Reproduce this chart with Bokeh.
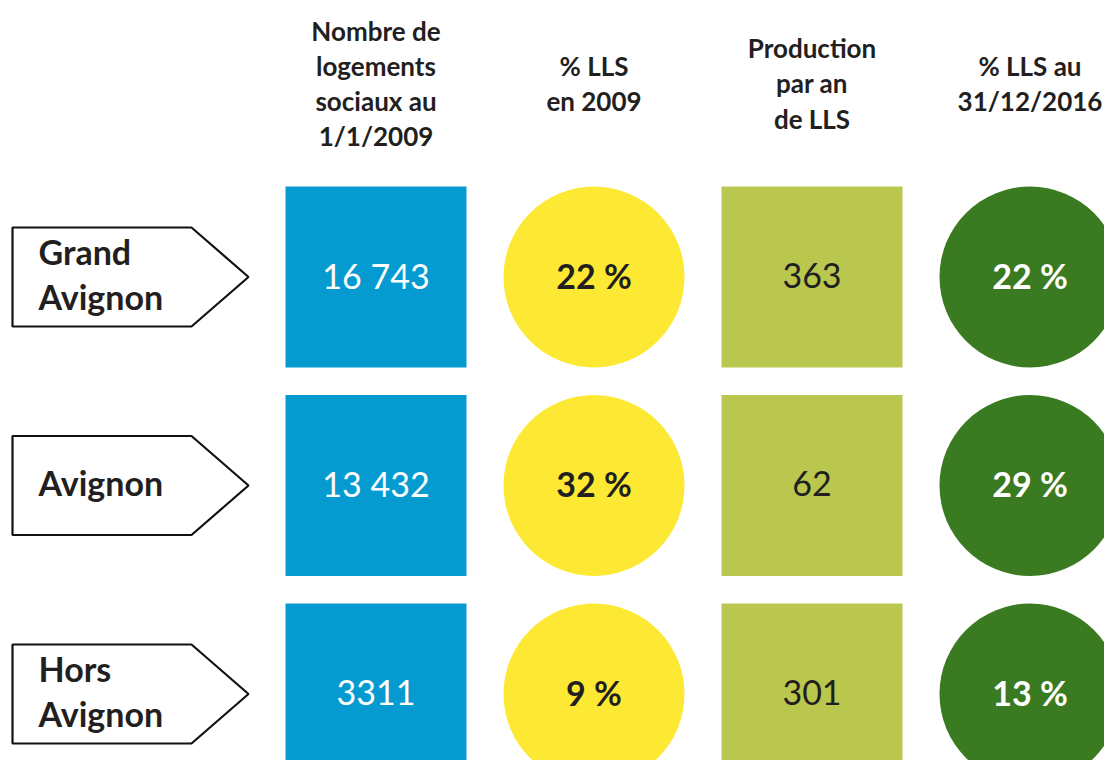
from bokeh.plotting import figure
from bokeh.models import Range1d
from bokeh.core.properties import value
from bokeh.embed import file_html
from bokeh.resources import INLINE

# ---- data ----
regions = ["Grand\nAvignon", "Avignon", "Hors\nAvignon"]
headers = ["Nombre de\nlogements\nsociaux au\n1/1/2009", "% LLS\nen 2009",
           "Production\npar an\nde LLS", "% LLS au\n31/12/2016"]
logements_2009 = [16743, 13432, 3311]
pct_lls_2009 = [22, 32, 9]
production_an = [363, 62, 301]
pct_lls_2016 = [22, 29, 13]

def fmt_num(v):
    return f"{v:,}".replace(",", " ") if v >= 10000 else str(v)

columns = [
    dict(labels=[fmt_num(v) for v in logements_2009], shape="square", fill="#069bd0", tc="#ffffff", style="normal"),
    dict(labels=[f"{v} %" for v in pct_lls_2009], shape="circle", fill="#fde933", tc="#231f20", style="bold"),
    dict(labels=[str(v) for v in production_an], shape="square", fill="#b9c74f", tc="#231f20", style="normal"),
    dict(labels=[f"{v} %" for v in pct_lls_2016], shape="circle", fill="#3a7a21", tc="#ffffff", style="bold"),
]

# ---- layout ----
FONT = value("Lato")
col_x0, col_dx = 375.5, 218.0
row_y0, row_dy = 276.5, 208.5
size = 181.0
arrow_left, arrow_body, arrow_tip, arrow_half = 12.0, 191.0, 248.0, 49.5
header_y = 83.0
value_dy, label_dy = -2.0, -3.0

p = figure(width=1104, height=760, x_range=Range1d(0, 1104), y_range=Range1d(760, 0),
           output_backend="svg", toolbar_location=None, min_border=0,
           x_axis_location=None, y_axis_location=None, outline_line_color=None,
           background_fill_color="white", border_fill_color="white")
p.grid.visible = False

row_ys = [row_y0 + i * row_dy for i in range(len(regions))]

# arrows with region labels
xs, ys = [], []
for y in row_ys:
    xs.append([arrow_left, arrow_body, arrow_tip, arrow_body, arrow_left])
    ys.append([y - arrow_half, y - arrow_half, y, y + arrow_half, y + arrow_half])
p.patches(xs, ys, fill_color="white", line_color="#111111", line_width=2.2)
p.text(x=[38] * len(regions), y=[y + label_dy for y in row_ys], text=regions, text_font=FONT,
       text_font_style="bold", text_font_size="34px", text_color="#231f20", text_align="left",
       text_baseline="middle", text_line_height=1.08)

# headers
col_xs = [col_x0 + j * col_dx for j in range(len(columns))]
p.text(x=col_xs, y=[header_y] * len(headers), text=headers, text_font=FONT, text_font_style="bold",
       text_font_size="26px", text_color="#231f20", text_align="center", text_baseline="middle",
       text_line_height=1.1)

# cells
for j, col in enumerate(columns):
    cx = [col_xs[j]] * len(row_ys)
    if col["shape"] == "square":
        p.rect(x=cx, y=row_ys, width=size, height=size, fill_color=col["fill"], line_color=None)
    else:
        p.circle(x=cx, y=row_ys, radius=size / 2, fill_color=col["fill"], line_color=None)
    p.text(x=cx, y=[y + value_dy for y in row_ys], text=col["labels"], text_font=FONT,
           text_font_style=col["style"], text_font_size="34px", text_color=col["tc"],
           text_align="center", text_baseline="middle")

open("out.html", "w").write(file_html(p, INLINE))
